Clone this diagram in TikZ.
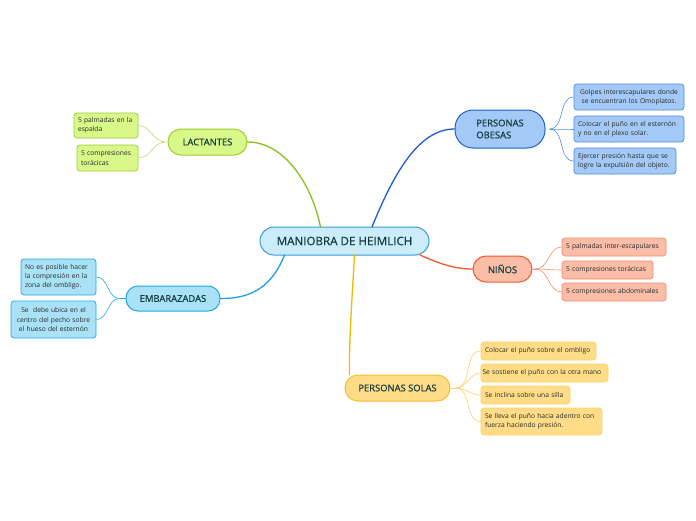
\documentclass[tikz,border=0pt]{standalone}
\usepackage{fontspec}
\setmainfont{Open Sans}
\definecolor{cfill}{HTML}{CCEBFB}
\definecolor{cdraw}{HTML}{3A9AD9}
\definecolor{gfill}{HTML}{D8F88A}
\definecolor{gdraw}{HTML}{9CCF2E}
\definecolor{gline}{HTML}{8CBE1E}
\definecolor{bfill}{HTML}{A3C9F7}
\definecolor{bdraw}{HTML}{1E62C8}
\definecolor{bleaf}{HTML}{4F8DE0}
\definecolor{bline}{HTML}{1A5FCC}
\definecolor{efill}{HTML}{A9E2F7}
\definecolor{edraw}{HTML}{22A9E4}
\definecolor{eline}{HTML}{1BA1E2}
\definecolor{nfill}{HTML}{F9BDA8}
\definecolor{ndraw}{HTML}{F05A28}
\definecolor{nleaf}{HTML}{F48C68}
\definecolor{yfill}{HTML}{FFDD88}
\definecolor{ydraw}{HTML}{F7BE2A}
\definecolor{yleaf}{HTML}{FFD060}
\definecolor{yline}{HTML}{F5B800}
\definecolor{textc}{HTML}{143C3C}
\definecolor{leaftext}{HTML}{2A2A2A}
\begin{document}
\begin{tikzpicture}[x=1pt,y=-1pt,
  main/.style={draw, line width=1pt, font=\fontsize{9.4}{12}\selectfont\addfontfeatures{FakeBold=0.8}, text=textc, align=center, inner sep=0pt},
  leaf/.style={draw, rounded corners=3pt, line width=0.7pt, font=\fontsize{6.7}{9.2}\selectfont, text=leaftext, inner xsep=4pt, inner ysep=0pt, align=left},
  conn/.style={line width=1.3pt, line cap=round},
  thin/.style={line width=0.6pt}]
\useasboundingbox (0,0) rectangle (696,520);
\fill[white] (0,0) rectangle (696,520);

\coordinate (cLac) at (320.5,227);
\coordinate (cOb) at (372,227);
\coordinate (cEmb) at (284.5,255);
\coordinate (cNin) at (420,255);
\coordinate (cSol) at (354.5,255);

% nodes
\node[main, fill=cfill, draw=cdraw, minimum width=169, minimum height=28, rounded corners=14, font=\fontsize{11.6}{12}\selectfont\addfontfeatures{FakeBold=0.8}] (c) at (344.5,241) {MANIOBRA DE HEIMLICH};
\node[main, fill=gfill, draw=gdraw, minimum width=79, minimum height=26, rounded corners=13] (lac) at (207.5,142) {LACTANTES};
\node[main, fill=bfill, draw=bdraw, minimum width=90, minimum height=38, rounded corners=18, align=left] (ob) at (500,129) {PERSONAS\\OBESAS};
\node[main, fill=efill, draw=edraw, minimum width=94, minimum height=25, rounded corners=12] (emb) at (173,298.5) {EMBARAZADAS};
\node[main, fill=nfill, draw=ndraw, minimum width=59, minimum height=26, rounded corners=13] (nin) at (502.5,269) {NIÑOS};
\node[main, fill=yfill, draw=ydraw, minimum width=105, minimum height=26, rounded corners=13] (sol) at (397.5,388) {PERSONAS SOLAS};

\draw[conn, gline] (cLac) .. controls (312,185) and (285,142) .. (lac.east);
\draw[conn, bline] (cOb) .. controls (395,170) and (420,129) .. (ob.west);
\draw[conn, eline] (cEmb) .. controls (270,292) and (245,298.5) .. (emb.east);
\draw[conn, ndraw] (cNin) .. controls (440,264) and (455,269) .. (nin.west);
\draw[conn, yline] (cSol) .. controls (352,300) and (349,340) .. ([xshift=-48]sol.north);

% leaves: lactantes
\node[leaf, fill=gfill, draw=gdraw, text width=56, minimum height=25] (l1) at (106,125.5) {5 palmadas en la\\espalda};
\node[leaf, fill=gfill, draw=gdraw, text width=53, minimum height=26] (l2) at (107.5,158) {5 compresiones\\torácicas};
% obesas
\node[leaf, fill=bfill, draw=bleaf, text width=102, minimum height=26, align=center] (o1) at (629,97) {Golpes interescapulares donde\\se encuentran los Omoplatos.};
\node[leaf, fill=bfill, draw=bleaf, text width=102, minimum height=26] (o2) at (629,129) {Colocar el puño en el esternón\\y no en el plexo solar.};
\node[leaf, fill=bfill, draw=bleaf, text width=94, minimum height=26] (o3) at (625,161) {Ejercer presión hasta que se\\logre la expulsión del objeto.};
% embarazadas
\node[leaf, fill=efill, draw=edraw, text width=67, minimum height=36] (e1) at (58.5,277) {No es posible hacer\\la compresión en la\\zona del ombligo.};
\node[leaf, fill=efill, draw=edraw, text width=77, minimum height=37, align=center] (e2) at (53.5,319.5) {Se\ \ debe ubica en el\\centro del pecho sobre\\el hueso del esternón};
% ninos
\node[leaf, fill=nfill, draw=nleaf, text width=96, minimum height=18] (n1) at (614,247) {5 palmadas inter-escapulares};
\node[leaf, fill=nfill, draw=nleaf, text width=83, minimum height=18] (n2) at (607.5,270) {5 compresiones torácicas};
\node[leaf, fill=nfill, draw=nleaf, text width=96, minimum height=18] (n3) at (614,292) {5 compresiones abdominales};
% solas
\node[leaf, fill=yfill, draw=yleaf, text width=107, minimum height=18] (s1) at (538.5,351) {Colocar el puño sobre el ombligo};
\node[leaf, fill=yfill, draw=yleaf, text width=124, inner xsep=1.5pt, minimum height=18] (s2) at (544.5,373) {\mbox{Se sostiene el puño con la otra mano}};
\node[leaf, fill=yfill, draw=yleaf, text width=81, minimum height=18] (s3) at (525.5,395) {Se inclina sobre una silla};
\node[leaf, fill=yfill, draw=yleaf, text width=113, minimum height=27] (s4) at (541.5,421.5) {Se lleva el puño hacia adentro con\\fuerza haciendo presión.};

% leaf connectors
\coordinate (lacj) at ([xshift=-2]lac.west);
\foreach \t in {l1,l2} \draw[thin, gdraw!70] (lacj) to[out=180,in=0] (\t.east);
\coordinate (obj) at ([xshift=4]ob.east);
\foreach \t in {o1,o2,o3} \draw[thin, bleaf] (obj) to[out=0,in=180] (\t.west);
\coordinate (embj) at ([xshift=-6]emb.west);
\draw[thin, edraw] (emb.west) -- (embj);
\foreach \t in {e1,e2} \draw[thin, edraw] (embj) to[out=180,in=0] (\t.east);
\coordinate (ninj) at ([xshift=3]nin.east);
\draw[thin, nleaf] (nin.east) -- (ninj);
\foreach \t in {n1,n2,n3} \draw[thin, nleaf] (ninj) to[out=0,in=180] (\t.west);
\coordinate (solj) at ([xshift=5]sol.east);
\draw[thin, yleaf] (sol.east) -- (solj);
\foreach \t in {s1,s2,s3,s4} \draw[thin, yleaf] (solj) to[out=0,in=180] (\t.west);
\end{tikzpicture}
\end{document}
